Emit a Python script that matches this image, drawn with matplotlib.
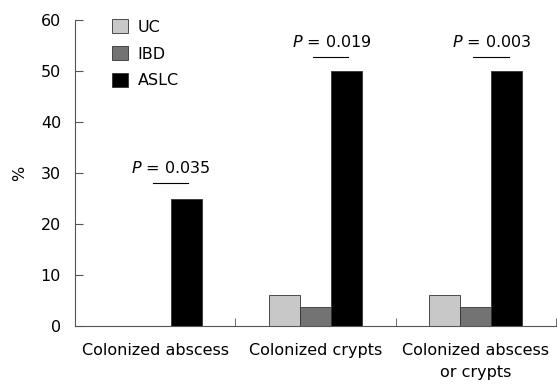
import matplotlib
matplotlib.use("Agg")
import matplotlib.pyplot as plt
import numpy as np

plt.rcParams['font.family'] = ['DejaVu Sans']

categories = ["Colonized abscess", "Colonized crypts", "Colonized abscess\nor crypts"]
groups = ["UC", "IBD", "ASLC"]
uc = [0, 6, 6]
ibd = [0, 3.8, 3.8]
aslc = [25, 50, 50]
p_labels = ["0.035", "0.019", "0.003"]
p_heights = [28, 52.7, 52.7]

colors = ["#c8c8c8", "#737373", "#000000"]
width = 0.194

fig = plt.figure(figsize=(5.57, 3.85), dpi=100)
ax = fig.add_axes([0.1346, 0.1532, 0.8634, 0.7948])

x = np.arange(len(categories))
for i, (vals, name, c) in enumerate(zip([uc, ibd, aslc], groups, colors)):
    ax.bar(x + (i - 1) * width, vals, width, color=c, edgecolor="#333333",
           linewidth=0.6, label=name)

for xi, lab, h in zip(x, p_labels, p_heights):
    ax.plot([xi - 0.015, xi + 0.205], [h, h], color="black", lw=0.8)
    ax.text(xi + 0.1, h + 2.0, "$\\it{P}$ = " + lab, ha="center",
            va="baseline", fontsize=11.5)

ax.set_xlim(-0.5, 2.5)
ax.set_ylim(0, 60)
ax.set_yticks(range(0, 61, 10))
ax.set_xticks(x)
ax.set_xticklabels(categories, fontsize=11.5, linespacing=1.65)
ax.set_xticks([0.5, 1.5, 2.5], minor=True)
ax.tick_params(axis="x", which="major", length=0, pad=12)
ax.tick_params(axis="x", which="minor", direction="in", length=6, color="#555555")
ax.tick_params(axis="y", direction="in", length=6, labelsize=11.5, pad=10,
               color="#555555")
ax.spines["top"].set_visible(False)
ax.spines["right"].set_visible(False)
ax.spines["left"].set_color("#555555")
ax.spines["bottom"].set_color("#555555")
ax.set_ylabel("%", fontsize=11.5, labelpad=10)

ax.legend(loc="upper left", bbox_to_anchor=(0.047, 1.05), frameon=False,
          fontsize=11.5, handlelength=1.0, handleheight=1.0,
          labelspacing=0.7, handletextpad=0.6)

fig.savefig("out.png", dpi=100)
